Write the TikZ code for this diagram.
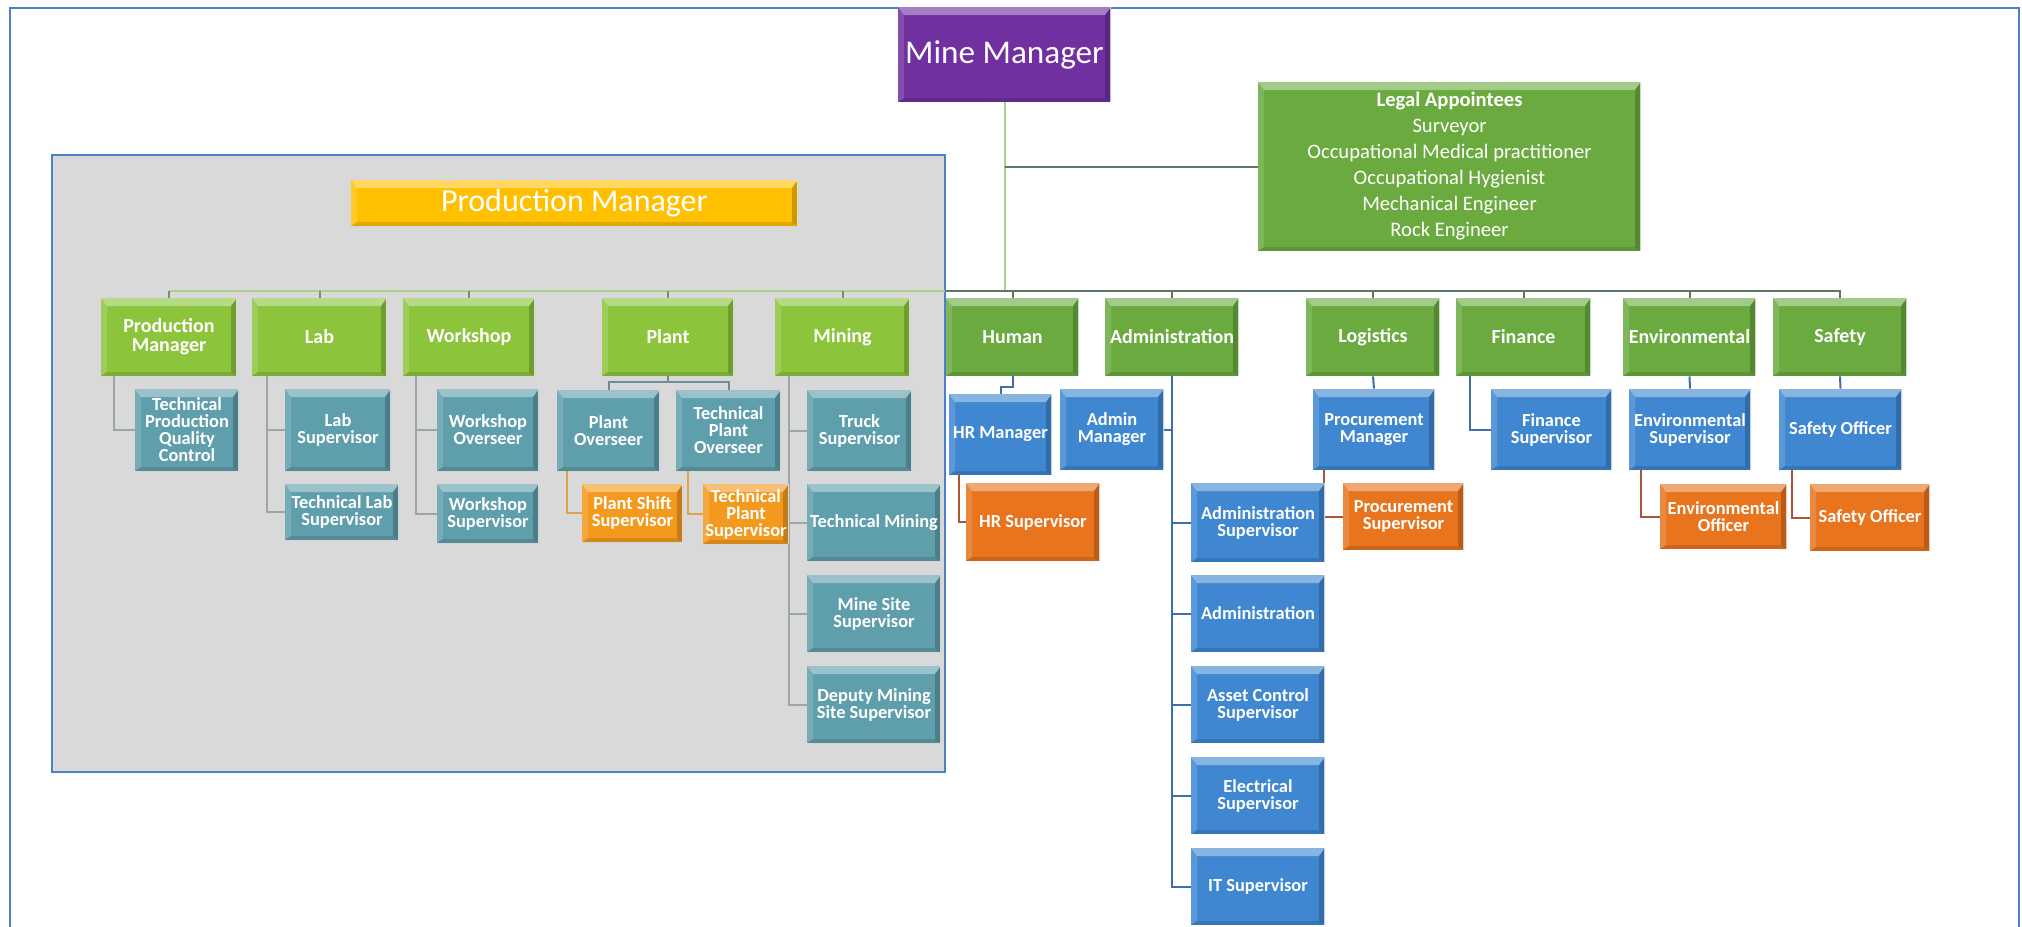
\documentclass[tikz,border=0pt]{standalone}
\usepackage{fontspec}
\setmainfont{Carlito}
\usetikzlibrary{calc}
\pgfdeclarelayer{back}
\pgfdeclarelayer{bg}
\pgfsetlayers{back,bg,main}
\definecolor{purplec}{HTML}{7030A0}
\definecolor{yellowc}{HTML}{FFC000}
\definecolor{lgreen}{HTML}{8CC43C}
\definecolor{dgreen}{HTML}{6AAA3F}
\definecolor{tealc}{HTML}{5F9EAB}
\definecolor{bluec}{HTML}{3F87D0}
\definecolor{orangec}{HTML}{E8741E}
\definecolor{amberc}{HTML}{F39A1E}
\definecolor{panelgray}{HTML}{D9D9D9}
\definecolor{bordercol}{HTML}{4F7FC8}
\definecolor{lineLG}{HTML}{A9D08E}
\definecolor{lineDG}{HTML}{5F7760}
\definecolor{lineGray}{HTML}{9AA6A9}
\definecolor{lineBlue}{HTML}{3E6FA8}
\definecolor{lineSlate}{HTML}{6F8C99}
\definecolor{lineBrown}{HTML}{A8583A}
\definecolor{lineAmber}{HTML}{E0A24A}
\newcommand\mkbox[7]{%
  \pgfmathsetmacro\bxcx{(#2+#4)/2}%
  \pgfmathsetmacro\bxcy{(#3+#5)/2}%
  \pgfmathsetmacro\bxw{(#4-#2)/2}%
  \pgfmathsetmacro\bxh{(#5-#3)/2}%
  \node[#6, minimum width=\bxw pt, minimum height=\bxh pt] (#1) at (\bxcx,\bxcy) {#7};%
}
\tikzset{
  bevel/.style={path picture={
    \fill[white,opacity=.38] (path picture bounding box.north west) -- (path picture bounding box.north east)
      -- ([shift={(-3pt,-4pt)}]path picture bounding box.north east) -- ([shift={(3pt,-4pt)}]path picture bounding box.north west) -- cycle;
    \fill[white,opacity=.15] (path picture bounding box.north west) -- ([shift={(3pt,-4pt)}]path picture bounding box.north west)
      -- ([shift={(3pt,2pt)}]path picture bounding box.south west) -- (path picture bounding box.south west) -- cycle;
    \fill[black,opacity=.2] (path picture bounding box.north east) -- (path picture bounding box.south east)
      -- ([shift={(-3pt,2pt)}]path picture bounding box.south east) -- ([shift={(-3pt,-4pt)}]path picture bounding box.north east) -- cycle;
    \fill[black,opacity=.12] (path picture bounding box.south west) -- (path picture bounding box.south east)
      -- ([shift={(-3pt,2pt)}]path picture bounding box.south east) -- ([shift={(3pt,2pt)}]path picture bounding box.south west) -- cycle;
    \draw[white,opacity=.7,line width=0.8pt] (path picture bounding box.north east) -- (path picture bounding box.south east);
  }},
  box/.style={draw=none, inner sep=0pt, align=center, text=white, bevel,
    font=\bfseries\fontsize{9.2}{8.5}\selectfont},
  greenL/.style={box, fill=lgreen, font=\bfseries\fontsize{10}{9.4}\selectfont},
  greenD/.style={box, fill=dgreen, font=\bfseries\fontsize{10}{9.4}\selectfont},
  tealbox/.style={box, fill=tealc},
  bluebox/.style={box, fill=bluec},
  orangebox/.style={box, fill=orangec},
  amberbox/.style={box, fill=amberc},
  conn/.style={line width=1pt},
}
\begin{document}
\begin{tikzpicture}[x=0.5pt,y=-0.5pt]
\useasboundingbox (0,0) rectangle (2022,926);
\begin{pgfonlayer}{back}
\fill[white] (0,0) rectangle (2022,926);
\draw[bordercol,line width=1pt] (10,8) rectangle (2019,960);
\filldraw[fill=panelgray,draw=bordercol,line width=0.6pt] (52,155) rectangle (945,772);
\end{pgfonlayer}

% top
\mkbox{mm}{898}{7}{1111}{102}{box,fill=purplec,font=\fontsize{16.6}{18}\selectfont}{Mine Manager}
\mkbox{legal}{1258}{82}{1641}{251}{box,fill=dgreen,font=\fontsize{10.3}{13}\selectfont}{{\bfseries Legal Appointees}\\Surveyor\\Occupational Medical practitioner\\Occupational Hygienist\\Mechanical Engineer\\Rock Engineer}
\mkbox{prodmgr}{351}{180}{798}{226}{box,fill=yellowc,font=\fontsize{16}{18}\selectfont}{Production Manager}

% level 1
\mkbox{pm}{101}{298}{237}{376}{greenL}{Production\\Manager}
\mkbox{lab}{252}{298}{387}{376}{greenL}{Lab}
\mkbox{wks}{403}{298}{535}{376}{greenL}{Workshop}
\mkbox{plant}{602}{298}{734}{376}{greenL}{Plant}
\mkbox{mining}{775}{298}{910}{376}{greenL}{Mining}
\mkbox{human}{946}{298}{1079}{376}{greenD}{Human}
\mkbox{admin}{1105}{298}{1239}{376}{greenD}{Administration}
\mkbox{logi}{1306}{298}{1440}{376}{greenD}{Logistics}
\mkbox{fin}{1456}{298}{1591}{376}{greenD}{Finance}
\mkbox{env}{1623}{298}{1756}{376}{greenD}{Environmental}
\mkbox{safety}{1773}{298}{1907}{376}{greenD}{Safety}

% children
\mkbox{tpqc}{135}{389}{239}{471}{tealbox}{Technical\\Production\\Quality\\Control}
\mkbox{labsup}{285}{389}{391}{471}{tealbox}{Lab\\Supervisor}
\mkbox{tlabsup}{285}{484}{399}{540}{tealbox}{Technical Lab\\Supervisor}
\mkbox{wkov}{437}{389}{539}{471}{tealbox}{Workshop\\Overseer}
\mkbox{wksup}{437}{484}{539}{543}{tealbox}{Workshop\\Supervisor}
\mkbox{plov}{557}{390}{660}{471}{tealbox}{Plant\\Overseer}
\mkbox{tplov}{676}{390}{781}{471}{tealbox}{Technical\\Plant\\Overseer}
\mkbox{plss}{582}{484}{683}{542}{amberbox}{Plant Shift\\Supervisor}
\mkbox{tpls}{703}{484}{789}{544}{amberbox}{Technical\\Plant\\Supervisor}
\mkbox{truck}{807}{390}{912}{471}{tealbox}{Truck\\Supervisor}
\mkbox{tmin}{807}{484}{941}{561}{tealbox}{Technical Mining}
\mkbox{mss}{807}{575}{941}{652}{tealbox}{Mine Site\\Supervisor}
\mkbox{dmss}{807}{666}{941}{743}{tealbox}{Deputy Mining\\Site Supervisor}
\mkbox{hrm}{949}{394}{1052}{475}{bluebox}{HR Manager}
\mkbox{hrs}{966}{483}{1100}{561}{orangebox}{HR Supervisor}
\mkbox{adm}{1060}{389}{1164}{470}{bluebox}{Admin\\Manager}
\mkbox{adsup}{1191}{483}{1325}{562}{bluebox}{Administration\\Supervisor}
\mkbox{adn}{1191}{575}{1325}{652}{bluebox}{Administration}
\mkbox{asset}{1191}{666}{1325}{743}{bluebox}{Asset Control\\Supervisor}
\mkbox{elec}{1191}{757}{1325}{834}{bluebox}{Electrical\\Supervisor}
\mkbox{it}{1191}{848}{1325}{925}{bluebox}{IT Supervisor}
\mkbox{prm}{1313}{389}{1435}{470}{bluebox}{Procurement\\Manager}
\mkbox{prs}{1343}{483}{1464}{550}{orangebox}{Procurement\\Supervisor}
\mkbox{fins}{1491}{389}{1612}{470}{bluebox}{Finance\\Supervisor}
\mkbox{envs}{1629}{389}{1751}{470}{bluebox}{Environmental\\Supervisor}
\mkbox{envo}{1660}{484}{1787}{549}{orangebox}{Environmental\\Officer}
\mkbox{safo}{1779}{389}{1902}{470}{bluebox}{Safety Officer}
\mkbox{safo2}{1810}{484}{1930}{551}{orangebox}{Safety Officer}

\coordinate (busL) at (169,291);
\coordinate (busM) at (945,291);
\coordinate (busR) at (1841,291);

\begin{pgfonlayer}{bg}
% top connectors
\draw[conn,lineLG] (mm.south) -- (mm.south |- busL);
\draw[conn,lineDG] (mm.south |- legal.west) -- (legal.west);
\draw[conn,lineLG,line width=1.4pt] (busL) -- (busM);
\draw[conn,lineDG] (busM) -- (busR);
\foreach \n in {pm,lab,wks,plant,mining}{\draw[conn,lineDG!70!lineLG] (\n.north) -- (\n.north |- busL);}
\foreach \n in {human,admin,logi,fin,env,safety}{\draw[conn,lineDG] (\n.north) -- (\n.north |- busL);}
% production side
\draw[conn,lineGray] ([xshift=6.5pt]pm.south west) |- (tpqc.west);
\draw[conn,lineGray] ([xshift=7.5pt]lab.south west) |- (labsup.west);
\draw[conn,lineGray] ([xshift=7.5pt]lab.south west) |- (tlabsup.west);
\draw[conn,lineGray] ([xshift=6.5pt]wks.south west) |- (wkov.west);
\draw[conn,lineGray] ([xshift=6.5pt]wks.south west) |- (wksup.west);
\draw[conn,lineSlate] (plant.south) -- ++(0,6) -| (plov.north);
\draw[conn,lineSlate] (plant.south) -- ++(0,6) -| (tplov.north);
\draw[conn,lineAmber] ([xshift=5pt]plov.south west) |- (plss.west);
\draw[conn,lineAmber] ([xshift=6pt]tplov.south west) |- (tpls.west);
\foreach \n in {truck,tmin,mss,dmss}{\draw[conn,lineGray] ([xshift=7pt]mining.south west) |- (\n.west);}
% right side
\draw[conn,lineBlue] (human.south) -- ++(0,11) -| (hrm.north);
\draw[conn,lineBrown] ([xshift=5pt]hrm.south west) |- (hrs.west);
\draw[conn,lineBlue] (admin.south) |- (adm.east);
\foreach \n in {adsup,adn,asset,elec,it}{\draw[conn,lineBlue] (admin.south) |- (\n.west);}
\draw[conn,lineBlue] (logi.south) -- (prm.north);
\draw[conn,lineBrown] ([xshift=5.5pt]prm.south west) |- (prs.west);
\draw[conn,lineBlue] ([xshift=7pt]fin.south west) |- (fins.west);
\draw[conn,lineBlue] (env.south) -- (envs.north);
\draw[conn,lineBrown] ([xshift=6pt]envs.south west) |- (envo.west);
\draw[conn,lineBlue] (safety.south) -- (safo.north);
\draw[conn,lineBrown] ([xshift=6.5pt]safo.south west) |- (safo2.west);
\end{pgfonlayer}
\end{tikzpicture}
\end{document}
